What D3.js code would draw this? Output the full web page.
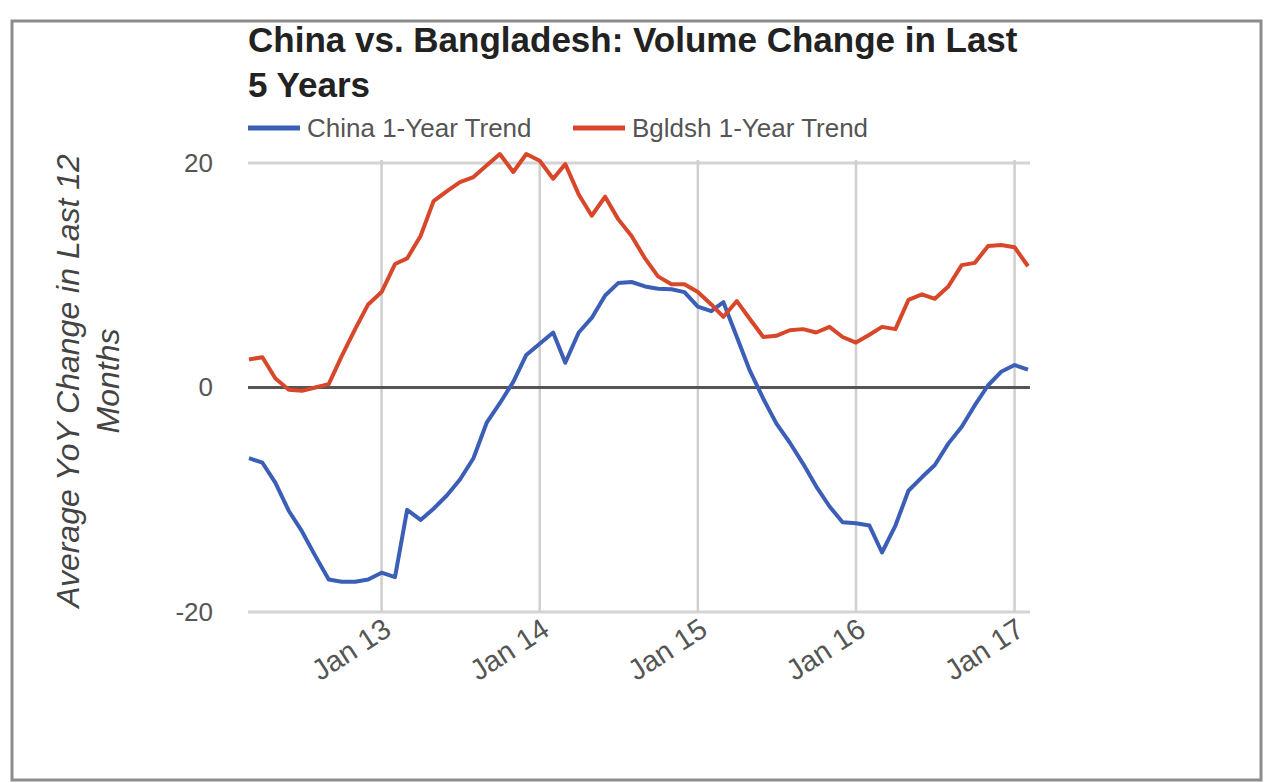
<!DOCTYPE html>
<html>
<head>
<meta charset="utf-8">
<script src="https://cdn.jsdelivr.net/npm/d3@7"></script>
<style>
  html, body { margin: 0; padding: 0; background: #fff; }
  svg { display: block; font-family: Arial, "Liberation Sans", sans-serif; }
</style>
</head>
<body>
<svg id="chart" width="1265" height="783"></svg>
<script>
// Monthly series, March 2012 through February 2017
const firstMonth = ["2012-03-01"];
const lastMonth = ["2017-02-01"];
const seriesNames = ["China 1-Year Trend", "Bgldsh 1-Year Trend"];
const chinaTrend = [
  -6.3, -6.7, -8.5, -11.0, -12.8, -15.0, -17.1, -17.3, -17.3, -17.1,
  -16.5, -16.9, -10.9, -11.8, -10.8, -9.6, -8.2, -6.3, -3.1, -1.4,
  0.5, 2.9, 3.9, 4.9, 2.2, 4.9, 6.2, 8.2, 9.3, 9.4,
  9.0, 8.8, 8.75, 8.5, 7.2, 6.8, 7.6, 4.5, 1.5, -1.0,
  -3.2, -4.9, -6.8, -8.8, -10.6, -12.0, -12.1, -12.3, -14.7, -12.3,
  -9.2, -8.0, -6.9, -5.0, -3.5, -1.6, 0.2, 1.4, 2.0, 1.6
];
const bgldshTrend = [
  2.5, 2.7, 0.8, -0.2, -0.3, 0.0, 0.3, 2.8, 5.2, 7.4,
  8.5, 11.0, 11.5, 13.5, 16.6, 17.5, 18.3, 18.75, 19.8, 20.8,
  19.2, 20.8, 20.2, 18.6, 19.9, 17.2, 15.3, 17.0, 15.0, 13.5,
  11.5, 9.9, 9.2, 9.2, 8.5, 7.4, 6.3, 7.7, 6.1, 4.5,
  4.6, 5.1, 5.2, 4.9, 5.4, 4.5, 4.0, 4.7, 5.4, 5.2,
  7.8, 8.3, 7.9, 9.0, 10.9, 11.1, 12.6, 12.7, 12.5, 10.8
];
const yTicks = [-20, 0, 20];
const yTickLabels = ["-20", "0", "20"];
const xTickDates = ["2013-01-01", "2014-01-01", "2015-01-01", "2016-01-01", "2017-01-01"];
const xTickLabels = ["Jan 13", "Jan 14", "Jan 15", "Jan 16", "Jan 17"];
const titleLines = ["China vs. Bangladesh: Volume Change in Last", "5 Years"];
const yTitleLines = ["Average YoY Change in Last 12", "Months"];

const colors = ["#3b5fb6", "#d8472a"];

const parse = d3.utcParse("%Y-%m-%d");
const months = d3.utcMonth.range(parse(firstMonth[0]), d3.utcMonth.offset(parse(lastMonth[0]), 1));

const plot = { left: 249, right: 1028, top: 163, bottom: 612 };

const x = d3.scaleUtc()
  .domain([months[0], months[months.length - 1]])
  .range([plot.left, plot.right]);
const y = d3.scaleLinear().domain([-20, 20]).range([plot.bottom, plot.top]);

const svg = d3.select("#chart");

// outer frame
svg.append("rect")
  .attr("x", 12).attr("y", 21).attr("width", 1249).attr("height", 759)
  .attr("fill", "none").attr("stroke", "#8c8c8c").attr("stroke-width", 3);

// title
svg.append("g").selectAll("text").data(titleLines).join("text")
  .attr("x", 248).attr("y", (d, i) => 52 + i * 45)
  .attr("font-size", 35).attr("font-weight", "bold").attr("fill", "#222")
  .text(d => d);

// legend
const legendX = [248, 573];
const legend = svg.append("g").selectAll("g").data(seriesNames).join("g")
  .attr("transform", (d, i) => `translate(${legendX[i]},128)`);
legend.append("line").attr("x1", 0).attr("x2", 52).attr("y1", 0).attr("y2", 0)
  .attr("stroke", (d, i) => colors[i]).attr("stroke-width", 5);
legend.append("text").attr("x", 59).attr("y", 9)
  .attr("font-size", 26).attr("fill", "#555").text(d => d);

// horizontal gridlines
svg.append("g").selectAll("line").data(yTicks.filter(v => v !== 0)).join("line")
  .attr("x1", plot.left - 1).attr("x2", plot.right + 2)
  .attr("y1", d => y(d)).attr("y2", d => y(d))
  .attr("stroke", "#d4d4d4").attr("stroke-width", 3);

// vertical gridlines at each January
const xTicks = xTickDates.map(parse);
svg.append("g").selectAll("line").data(xTicks).join("line")
  .attr("x1", d => x(d)).attr("x2", d => x(d))
  .attr("y1", plot.top - 3).attr("y2", plot.bottom)
  .attr("stroke", "#cfcfcf").attr("stroke-width", 2.5);

// y axis labels
const yAxis = svg.append("g")
  .attr("transform", `translate(${plot.left},0)`)
  .call(d3.axisLeft(y).tickValues(yTicks).tickSize(0).tickPadding(36)
    .tickFormat(d => yTickLabels[yTicks.indexOf(d)]));
yAxis.select(".domain").remove();
yAxis.selectAll("text").attr("font-size", 26).attr("fill", "#555").attr("font-family", "Arial, 'Liberation Sans', sans-serif");

// x axis labels, slanted
const xAxis = svg.append("g")
  .attr("transform", `translate(0,${plot.bottom})`)
  .call(d3.axisBottom(x).tickValues(xTicks).tickSize(0).tickFormat((d, i) => xTickLabels[i]));
xAxis.select(".domain").remove();
xAxis.selectAll("text")
  .attr("font-size", 29).attr("fill", "#555").attr("font-family", "Arial, 'Liberation Sans', sans-serif")
  .attr("text-anchor", "end")
  .attr("dy", 0).attr("y", 0)
  .attr("transform", "translate(11,22) rotate(-33)");

// zero baseline
svg.append("line")
  .attr("x1", plot.left - 1).attr("x2", plot.right + 2)
  .attr("y1", y(0)).attr("y2", y(0))
  .attr("stroke", "#555").attr("stroke-width", 3);

// series lines
const line = d3.line().x((d, i) => x(months[i])).y(d => y(d));
svg.append("g").selectAll("path").data([chinaTrend, bgldshTrend]).join("path")
  .attr("d", line)
  .attr("fill", "none")
  .attr("stroke", (d, i) => colors[i])
  .attr("stroke-width", 4)
  .attr("stroke-linejoin", "round");

// y axis title
svg.append("g").attr("transform", "translate(0,381) rotate(-90)")
  .selectAll("text").data(yTitleLines).join("text")
  .attr("x", 0).attr("y", (d, i) => 79 + i * 40)
  .attr("text-anchor", "middle")
  .attr("font-size", 32).attr("font-style", "italic").attr("fill", "#444")
  .text(d => d);
</script>
</body>
</html>
